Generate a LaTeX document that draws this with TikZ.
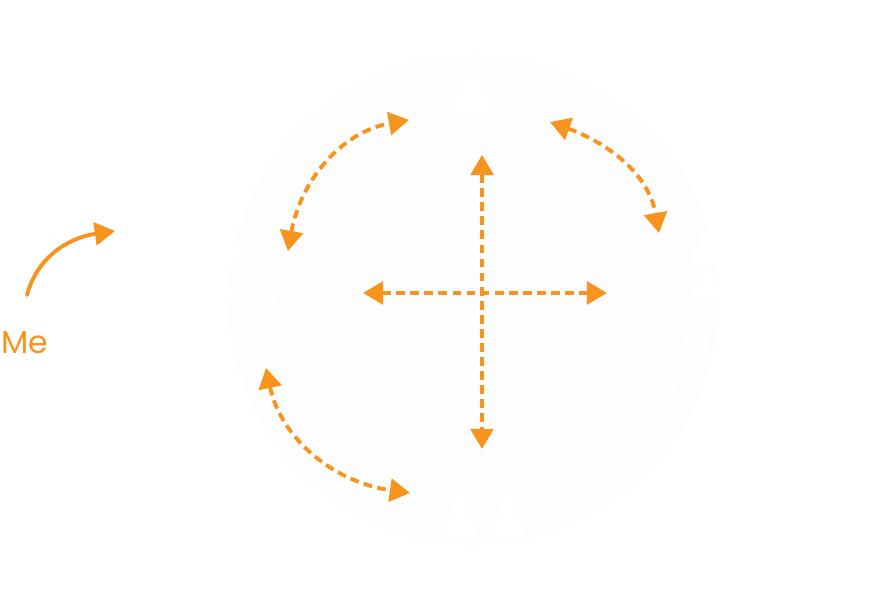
\documentclass[tikz,border=0pt]{standalone}
\usepackage{fontspec}
\setmainfont{Poppins}[BoldFont={Poppins SemiBold}]
\usetikzlibrary{arrows.meta,positioning}
\definecolor{accent}{HTML}{F7941D}
\definecolor{disc}{HTML}{FDFDFD}

\begin{document}
\begin{tikzpicture}[
    x=0.2mm,
    y=0.2mm,
    font=\fontsize{18pt}{20pt}\selectfont,
    hub/.style={
        circle,
        fill=disc,
        minimum size=98mm,
        inner sep=0pt
    },
    ghost/.style={text=white, font=\fontsize{18pt}{20pt}\selectfont\bfseries, inner sep=0pt},
    arrow/.style={-{Triangle[length=11.5pt,width=13pt]}, accent, line width=2.2pt},
    biarrow/.style={{Triangle[length=11.5pt,width=13pt]}-{Triangle[length=11.5pt,width=13pt]}, accent, line width=2.2pt, dash pattern=on 5pt off 3pt},
    person/.pic={
        \fill[white] (0,10) circle (10);
        \fill[white, rounded corners=2.5pt] (-16.5,-20) -- (-16.5,-11) arc[start angle=180, end angle=90, radius=12] -- (4.5,1) arc[start angle=90, end angle=0, radius=12] -- (16.5,-20) -- cycle;
    }
]

\useasboundingbox[fill=white] (0,0) rectangle (892,602);

\node[hub] (disc) at (473,302) {};

\pic at (472,509) {person};
\pic at (461,86) {person};
\pic at (509,86) {person};
\pic[scale=0.82] at (706,355) {person};
\pic[scale=0.82] at (706,318) {person};
\pic[scale=0.82] at (226,360) {person};

\node[ghost, anchor=base east] (lefta) at (278,297) {n \&};
\node[ghost, anchor=base east] (leftb) at (278,249) {rch};
\node[ghost, anchor=base west] (righta) at (668,252) {De};
\node[ghost, anchor=base west] (rightb) at (669,204) {te};
\node[text=accent, anchor=base west, inner sep=0pt] (me) at (1,249) {Me};

\coordinate (start) at (27,307);
\coordinate (end) at (115,371);
\coordinate (north) at (482,447);
\coordinate (south) at (482,153);
\coordinate (west) at (363,309);
\coordinate (east) at (607,309);
\coordinate (tla) at (288,351);
\coordinate (tlb) at (409,482);
\coordinate (tra) at (550,480);
\coordinate (trb) at (659,369);
\coordinate (bla) at (266,234);
\coordinate (blb) at (410,109);

\draw[arrow, line cap=round] (start) to[out=75, in=188] (end);
\draw[biarrow] (north) -- (south);
\draw[biarrow] (west) -- (east);
\draw[biarrow] (tla) to[out=80, in=190] (tlb);
\draw[biarrow] (tra) to[out=-20, in=100] (trb);
\draw[biarrow] (bla) to[out=-78, in=172] (blb);

\end{tikzpicture}
\end{document}
